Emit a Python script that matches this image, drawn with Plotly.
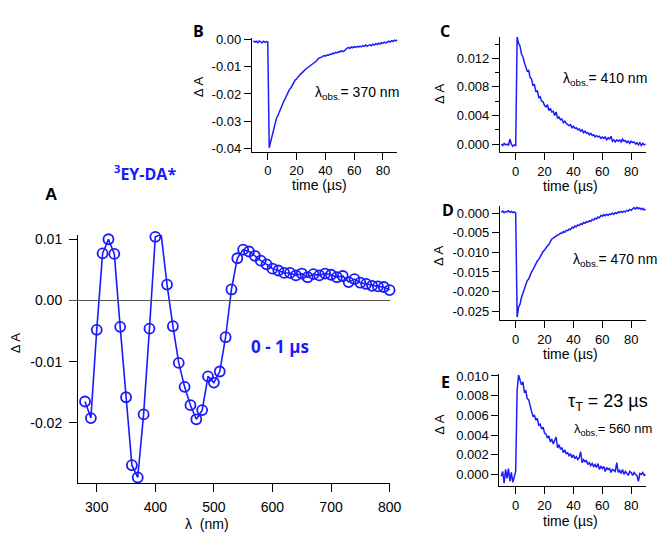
import plotly.graph_objects as go

W, H = 670, 538

# ---------------- data ----------------
wavelength_nm = list(range(280, 801, 10))
spectrum_dA = [-0.0165, -0.0192, -0.0048, 0.0077, 0.0100, 0.0076, -0.0043, -0.0158, -0.0269, -0.0289,
               -0.0186, -0.0046, 0.0104, 0.0108, 0.0026, -0.0042, -0.0102, -0.0141, -0.0171, -0.0194,
               -0.0179, -0.0124, -0.0134, -0.0116, -0.0060, 0.0018, 0.0069, 0.0083, 0.0080, 0.0073,
               0.0065, 0.0059, 0.0052, 0.0049, 0.0045, 0.0045, 0.0041, 0.0044, 0.0038, 0.0043,
               0.0041, 0.0044, 0.0042, 0.0038, 0.0040, 0.0030, 0.0035, 0.0029, 0.0027, 0.0024,
               0.0023, 0.0022, 0.0017]

time_us = list(range(-10, 91))

trace_370 = [-0.0004, -0.0009, -0.0006, -0.0011, -0.0005, -0.0008, -0.0012, -0.0006, -0.0010, -0.0007, -0.0009,
             -0.0398, -0.0375, -0.0348, -0.0327, -0.0310, -0.0290, -0.0280, -0.0266, -0.0255, -0.0243,
             -0.0228, -0.0218, -0.0205, -0.0196, -0.0184, -0.0178, -0.0168, -0.0160, -0.0149, -0.0145,
             -0.0136, -0.0131, -0.0126, -0.0119, -0.0116, -0.0110, -0.0106, -0.0101, -0.0099, -0.0092,
             -0.0090, -0.0085, -0.0081, -0.0078, -0.0070, -0.0068, -0.0064, -0.0063, -0.0059, -0.0061,
             -0.0057, -0.0058, -0.0054, -0.0055, -0.0050, -0.0052, -0.0047, -0.0049, -0.0045, -0.0046,
             -0.0041, -0.0044, -0.0042, -0.0036, -0.0032, -0.0029, -0.0033, -0.0027, -0.0030, -0.0026,
             -0.0029, -0.0025, -0.0028, -0.0024, -0.0027, -0.0022, -0.0025, -0.0020, -0.0024, -0.0021,
             -0.0019, -0.0023, -0.0017, -0.0020, -0.0015, -0.0018, -0.0013, -0.0016, -0.0011, -0.0014,
             -0.0009, -0.0012, -0.0010, -0.0006, -0.0009, -0.0004, -0.0007, -0.0002, -0.0005, -0.0001]

trace_410 = [0.0000, -0.0002, 0.0001, -0.0001, 0.0000, -0.0002, 0.0007, 0.0000, -0.0003, -0.0001, -0.0002,
             0.0150, 0.0141, 0.0137, 0.0126, 0.0122, 0.0114, 0.0109, 0.0102, 0.0103, 0.0093,
             0.0091, 0.0082, 0.0083, 0.0073, 0.0075, 0.0065, 0.0066, 0.0060, 0.0059, 0.0054,
             0.0052, 0.0055, 0.0047, 0.0050, 0.0045, 0.0046, 0.0040, 0.0045, 0.0036, 0.0038,
             0.0034, 0.0035, 0.0030, 0.0032, 0.0029, 0.0028, 0.0026, 0.0027, 0.0023, 0.0025,
             0.0022, 0.0023, 0.0020, 0.0021, 0.0018, 0.0020, 0.0016, 0.0018, 0.0015, 0.0016,
             0.0013, 0.0015, 0.0012, 0.0013, 0.0010, 0.0012, 0.0010, 0.0011, 0.0008, 0.0010,
             0.0008, 0.0010, 0.0006, 0.0009, 0.0007, 0.0011, 0.0004, 0.0006, 0.0003, 0.0006,
             0.0004, 0.0006, 0.0003, 0.0007, 0.0004, 0.0005, 0.0002, 0.0004, 0.0001, 0.0004,
             0.0002, 0.0003, 0.0000, 0.0002, -0.0001, 0.0002, -0.0002, 0.0001, -0.0001, 0.0000]

trace_470 = [0.0002, 0.0005, 0.0001, 0.0004, 0.0003, 0.0006, 0.0002, 0.0004, 0.0001, 0.0003, 0.0000,
             -0.0265, -0.0240, -0.0232, -0.0215, -0.0205, -0.0192, -0.0186, -0.0172, -0.0168, -0.0158,
             -0.0150, -0.0144, -0.0136, -0.0131, -0.0122, -0.0118, -0.0110, -0.0105, -0.0098, -0.0094,
             -0.0088, -0.0084, -0.0080, -0.0072, -0.0066, -0.0064, -0.0061, -0.0059, -0.0056, -0.0055,
             -0.0051, -0.0052, -0.0047, -0.0049, -0.0044, -0.0045, -0.0041, -0.0042, -0.0036, -0.0038,
             -0.0033, -0.0035, -0.0030, -0.0032, -0.0027, -0.0029, -0.0024, -0.0026, -0.0022, -0.0023,
             -0.0020, -0.0021, -0.0016, -0.0018, -0.0013, -0.0015, -0.0010, -0.0012, -0.0006, -0.0008,
             -0.0004, -0.0007, -0.0003, -0.0006, -0.0002, -0.0004, 0.0000, -0.0003, 0.0001, -0.0001,
             0.0003, 0.0001, 0.0004, 0.0002, 0.0005, 0.0003, 0.0007, 0.0005, 0.0009, 0.0007,
             0.0011, 0.0014, 0.0010, 0.0015, 0.0011, 0.0013, 0.0009, 0.0012, 0.0008, 0.0010]

trace_560 = [-0.0002, 0.0003, -0.0009, 0.0005, -0.0004, 0.0006, -0.0007, 0.0002, -0.0008, -0.0002, 0.0003,
             0.0085, 0.0101, 0.0096, 0.0091, 0.0094, 0.0084, 0.0085, 0.0077, 0.0076, 0.0068,
             0.0064, 0.0059, 0.0060, 0.0055, 0.0057, 0.0050, 0.0051, 0.0046, 0.0048, 0.0042,
             0.0041, 0.0037, 0.0039, 0.0033, 0.0036, 0.0031, 0.0035, 0.0038, 0.0027, 0.0030,
             0.0026, 0.0027, 0.0022, 0.0025, 0.0021, 0.0022, 0.0019, 0.0021, 0.0017, 0.0020,
             0.0016, 0.0018, 0.0015, 0.0017, 0.0023, 0.0012, 0.0015, 0.0013, 0.0014, 0.0010,
             0.0012, 0.0009, 0.0011, 0.0008, 0.0010, 0.0007, 0.0011, 0.0005, 0.0008, 0.0006,
             0.0008, 0.0003, 0.0007, 0.0005, 0.0006, 0.0002, 0.0005, 0.0004, 0.0003, 0.0012,
             0.0002, 0.0004, 0.0001, 0.0005, 0.0000, 0.0003, 0.0001, -0.0001, 0.0003, 0.0002,
             -0.0001, 0.0002, 0.0000, -0.0001, -0.0007, 0.0001, 0.0000, 0.0002, -0.0001, 0.0000]

time_ticks = [0, 20, 40, 60, 80]
wl_ticks = [300, 400, 500, 600, 700, 800]
A_yticks = [-0.02, -0.01, 0.0, 0.01]
A_ytext = ["-0.02", "-0.01", "0.00", "0.01"]
B_yticks = [-0.04, -0.03, -0.02, -0.01, 0.0]
B_ytext = ["-0.04", "-0.03", "-0.02", "-0.01", "0.00"]
C_yticks = [0.0, 0.004, 0.008, 0.012]
C_ytext = ["0.000", "0.004", "0.008", "0.012"]
D_yticks = [-0.025, -0.02, -0.015, -0.01, -0.005, 0.0]
D_ytext = ["-0.025", "-0.020", "-0.015", "-0.010", "-0.005", "0.000"]
E_yticks = [0.0, 0.002, 0.004, 0.006, 0.008, 0.010]
E_ytext = ["0.000", "0.002", "0.004", "0.006", "0.008", "0.010"]

# ---------------- helpers ----------------
def fx(px):
    return px / W

def fy(py):
    return 1 - py / H

BLUE = "#1a1aff"
FONT = "Liberation Sans, Arial, sans-serif"

fig = go.Figure()

fig.add_trace(go.Scatter(x=wavelength_nm, y=spectrum_dA, mode="lines+markers",
                         line=dict(color=BLUE, width=1.6),
                         marker=dict(symbol="circle-open", size=10, color=BLUE, line=dict(width=1.8, color=BLUE)),
                         xaxis="x", yaxis="y", showlegend=False, cliponaxis=False))
for i, tr in enumerate([trace_370, trace_410, trace_470, trace_560]):
    fig.add_trace(go.Scatter(x=time_us, y=tr, mode="lines", line=dict(color=BLUE, width=1.5),
                             xaxis=f"x{i+2}", yaxis=f"y{i+2}", showlegend=False))

def ax(domain, rng, anchor, ticklen, fsize, tickvals=None, ticktext=None, standoff=None):
    d = dict(domain=domain, range=rng, anchor=anchor, showline=True, linecolor="black", linewidth=1,
             ticks="outside", ticklen=ticklen, tickwidth=1, tickcolor="black", showgrid=False,
             zeroline=False, tickfont=dict(family=FONT, size=fsize, color="black"))
    if tickvals is not None:
        d["tickmode"] = "array"
        d["tickvals"] = tickvals
        if ticktext is not None:
            d["ticktext"] = ticktext
    if standoff is not None:
        d["ticklabelstandoff"] = standoff
    return d

# panel A
xA = [fx(79.3), fx(396.7)]; yA = [fy(486), fy(233.3)]
# panel B
xB = [fx(256), fx(404)]; yB = [fy(148.3), fy(32.3)]
# panels C, D, E
xC = [fx(508.3), fx(656.7)]; yC = [fy(149), fy(31.7)]
yD = [fy(320), fy(204)]
xE = [fx(507.7), fx(656.7)]; yE = [fy(489), fy(375)]

layout = dict(
    width=W, height=H, margin=dict(l=0, r=0, t=0, b=0),
    paper_bgcolor="white", plot_bgcolor="white", showlegend=False,
    xaxis=ax(xA, [268, 801], "y", 8, 14, wl_ticks, standoff=3),
    yaxis=ax(yA, [-0.0298, 0.0107], "x", 8, 14, A_yticks, A_ytext, standoff=4),
    xaxis2=ax(xB, [-11.1, 90], "y2", 7, 13, time_ticks),
    yaxis2=ax(yB, [-0.0412, 0.0007], "x2", 7, 13, B_yticks, B_ytext),
    xaxis3=ax(xC, [-10.9, 90.2], "y3", 7, 13, time_ticks),
    yaxis3=ax(yC, [-0.00114, 0.01497], "x3", 7, 13, C_yticks, C_ytext),
    xaxis4=ax(xC, [-10.9, 90.2], "y4", 7, 13, time_ticks),
    yaxis4=ax(yD, [-0.02725, 0.00175], "x4", 7, 13, D_yticks, D_ytext),
    xaxis5=ax(xE, [-11.3, 90.2], "y5", 7, 13, time_ticks),
    yaxis5=ax(yE, [-0.00117, 0.0102], "x5", 7, 13, E_yticks, E_ytext),
)
layout["yaxis3"]["minor"] = dict(dtick=0.002, tick0=0, ticks="outside", ticklen=4, tickcolor="black")
fig.update_layout(**layout)

# zero line in panel A
fig.add_shape(type="line", xref="paper", yref="y", x0=fx(70), x1=fx(397), y0=0, y1=0,
              line=dict(color="#555555", width=1))

def note(px, py, text, size, color="black", bold=False, angle=0, family=FONT, xanchor="center"):
    if bold:
        text = f"<b>{text}</b>"
    fig.add_annotation(x=fx(px), y=fy(py), xref="paper", yref="paper", text=text, showarrow=False,
                       font=dict(family=family, size=size, color=color), textangle=angle,
                       xanchor=xanchor, yanchor="middle")

BOLDF = "Open Sans, Liberation Sans, sans-serif"
note(147, 170, "<sup>3</sup>EY-DA*", 16, BLUE, True, family=BOLDF)
note(52, 192, "A", 17, bold=True)
note(285, 347, "0 - 1 µs", 17, BLUE, True, family=BOLDF)
note(202, 25, "B", 16, bold=True, family=BOLDF)
note(452, 25, "C", 16, bold=True, family=BOLDF)
note(455, 208, "D", 16, bold=True, family=BOLDF)
note(453, 383, "E", 16, bold=True, family=BOLDF)

obs = "λ<sub>obs.</sub>= {} nm"
note(363, 89, obs.format(370), 14)
note(615, 74, obs.format(410), 14)
note(625, 259, obs.format(470), 14)
note(618, 404, "τ<sub>T</sub> = 23 µs", 18)
note(623, 432, obs.format(560), 13)

# axis titles
note(16, 343, "Δ A", 13, angle=-90)
note(210, 528, "λ  (nm)", 14)
note(202, 82, "Δ A", 13, angle=-90)
note(325, 182, "time (µs)", 14)
note(447, 89, "Δ A", 13, angle=-90)
note(580, 183, "time (µs)", 14)
note(446, 254, "Δ A", 13, angle=-90)
note(580, 355, "time (µs)", 14)
note(446, 426, "Δ A", 13, angle=-90)
note(580, 525, "time (µs)", 14)

fig.write_html("out.html")
